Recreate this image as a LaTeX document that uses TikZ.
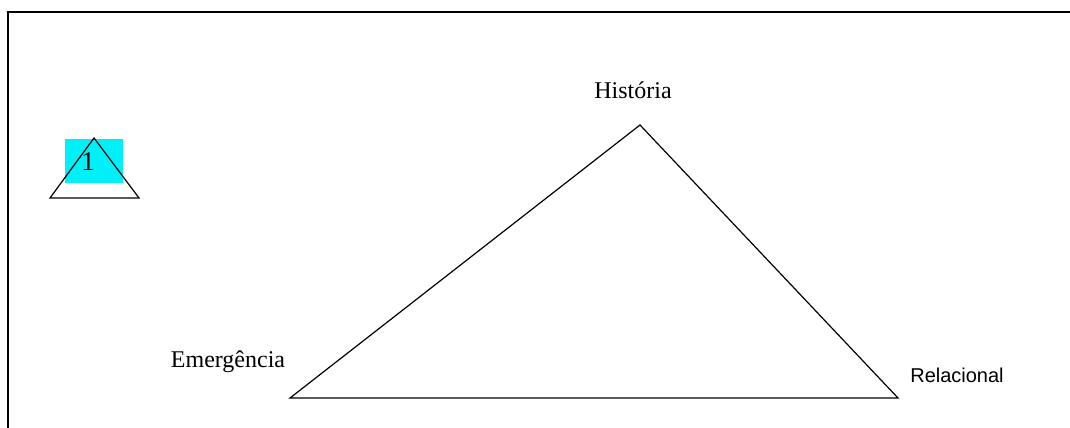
\documentclass[tikz,border=0pt]{standalone}
\usepackage{fontspec}
\setmainfont{Liberation Serif}
\newfontfamily\arialfont{Liberation Sans}
\definecolor{boxcyan}{HTML}{00F0F8}
\tikzset{
  frameline/.style={line width=2pt, black},
  triline/.style={line width=1.2pt, black},
  serlabel/.style={font=\fontsize{24}{27}\selectfont, inner sep=0pt},
  sanslabel/.style={font=\arialfont\fontsize{20}{23}\selectfont, inner sep=0pt},
}
\begin{document}
\begin{tikzpicture}[x=1pt,y=-1pt]
\useasboundingbox[fill=white] (0,0) rectangle (1070,428);
% frame (open at right and bottom)
\draw[frameline] (8,430) -- (8,12) -- (1072,12);
% small legend triangle
\fill[boxcyan] (65,139) rectangle (123,183);
\coordinate (sa) at (94,138);
\coordinate (sl) at (50,198);
\coordinate (sr) at (139,198);
\draw[triline] (sa) -- (sl) -- (sr) -- cycle;
\node[serlabel, font=\fontsize{27}{30}\selectfont] (one) at (88,162) {1};
% main triangle
\coordinate (h) at (640,125);
\coordinate (e) at (290,398);
\coordinate (r) at (898,398);
\draw[triline] (h) -- (e) -- (r) -- cycle;
\node[serlabel] (hist) at (633,90) {História};
\node[serlabel] (emer) at (228,362) {Emergência};
\node[sanslabel] (rel) at (957,375) {Relacional};
\end{tikzpicture}
\end{document}
